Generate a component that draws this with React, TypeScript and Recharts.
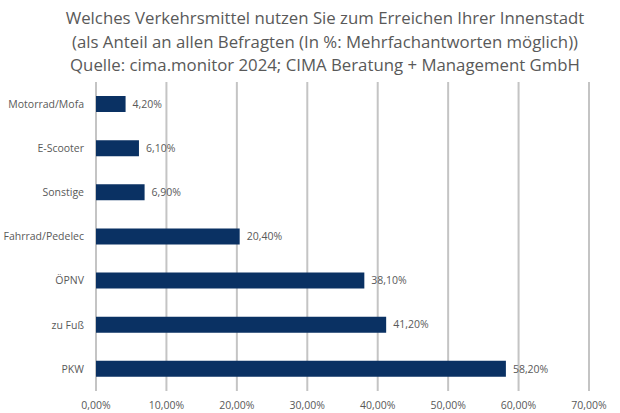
import React from "react";
import { BarChart, Bar, XAxis, YAxis, CartesianGrid, LabelList } from "recharts";

const categories = ["Motorrad/Mofa", "E-Scooter", "Sonstige", "Fahrrad/Pedelec", "ÖPNV", "zu Fuß", "PKW"];
const values = [4.2, 6.1, 6.9, 20.4, 38.1, 41.2, 58.2];
const xTicks = [0, 10, 20, 30, 40, 50, 60, 70];
const titleLines = [
  "Welches Verkehrsmittel nutzen Sie zum Erreichen Ihrer Innenstadt",
  "(als Anteil an allen Befragten (In %: Mehrfachantworten möglich))",
  "Quelle: cima.monitor 2024; CIMA Beratung + Management GmbH",
];

const data = categories.map((c, i) => ({ name: c, value: values[i] }));
const fmt = (v: number) => v.toFixed(2).replace(".", ",") + "%";
const FONT = "'Open Sans', sans-serif";

export default function App() {
  return (
    <div style={{ position: "absolute", left: 0, top: 0, width: 620, height: 413, background: "#fff", fontFamily: FONT }}>
      <div style={{ position: "absolute", left: 0, top: 6, width: 650, textAlign: "center", color: "#595959", fontSize: 16.8, lineHeight: "23.5px" }}>
        {titleLines.map((t) => (
          <div key={t}>{t}</div>
        ))}
      </div>
      <BarChart
        width={620}
        height={413}
        data={data}
        layout="vertical"
        margin={{ top: 82, right: 31, bottom: 0, left: 0 }}
      >
        <CartesianGrid horizontal={false} vertical={true} stroke="#c4c4c4" strokeWidth={2} />
        <XAxis
          type="number"
          domain={[0, 70]}
          ticks={xTicks}
          tickFormatter={fmt}
          axisLine={false}
          tickLine={false}
          tick={{ fill: "#595959", fontSize: 10.5, fontFamily: FONT }}
          tickMargin={5}
          height={22}
          interval={0}
        />
        <YAxis
          type="category"
          dataKey="name"
          axisLine={false}
          tickLine={false}
          width={96}
          tick={{ fill: "#595959", fontSize: 10.5, fontFamily: FONT }}
          tickMargin={6}
        />
        <Bar dataKey="value" fill="#0a3163" barSize={16} isAnimationActive={false}>
          <LabelList dataKey="value" position="right" offset={7} formatter={(v: any) => fmt(Number(v))} style={{ fill: "#595959", fontSize: 10.5, fontFamily: FONT }} />
        </Bar>
      </BarChart>
    </div>
  );
}
